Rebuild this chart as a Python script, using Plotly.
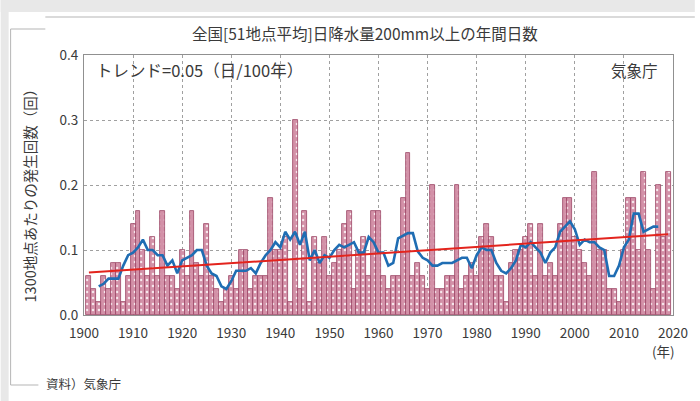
import numpy as np
import pandas as pd
import plotly.graph_objects as go

# Annual number of days with daily precipitation >= 200 mm (51-station mean, per station)
years = list(range(1901, 2020))
days_200mm = [
    0.06, 0.04, 0.02, 0.06, 0.04, 0.08, 0.08, 0.02, 0.06, 0.14,   # 1901-1910
    0.16, 0.10, 0.06, 0.12, 0.06, 0.16, 0.06, 0.06, 0.04, 0.10,   # 1911-1920
    0.06, 0.16, 0.08, 0.06, 0.14, 0.06, 0.04, 0.02, 0.04, 0.06,   # 1921-1930
    0.04, 0.10, 0.10, 0.04, 0.06, 0.06, 0.06, 0.18, 0.10, 0.10,   # 1931-1940
    0.12, 0.02, 0.30, 0.04, 0.16, 0.02, 0.12, 0.08, 0.12, 0.06,   # 1941-1950
    0.08, 0.10, 0.14, 0.16, 0.04, 0.10, 0.12, 0.06, 0.16, 0.16,   # 1951-1960
    0.06, 0.04, 0.06, 0.06, 0.18, 0.25, 0.06, 0.08, 0.06, 0.04,   # 1961-1970
    0.20, 0.04, 0.04, 0.06, 0.06, 0.20, 0.04, 0.06, 0.08, 0.06,   # 1971-1980
    0.12, 0.14, 0.12, 0.06, 0.06, 0.02, 0.08, 0.10, 0.10, 0.12,   # 1981-1990
    0.14, 0.06, 0.14, 0.06, 0.08, 0.06, 0.14, 0.18, 0.18, 0.12,   # 1991-2000
    0.10, 0.08, 0.06, 0.22, 0.10, 0.10, 0.04, 0.04, 0.02, 0.10,   # 2001-2010
    0.18, 0.18, 0.10, 0.22, 0.10, 0.04, 0.20, 0.12, 0.22,         # 2011-2019
]
trend_per_century = 0.05  # days per 100 years

x_ticks = list(range(1900, 2021, 10))
y_ticks = [0.0, 0.1, 0.2, 0.3, 0.4]

s = pd.Series(days_200mm, index=years)
running5 = s.rolling(5, center=True).mean()
yr = np.array(years, dtype=float)
trend = s.mean() + trend_per_century / 100.0 * (yr - yr.mean())

W, H = 700, 401
L, R, T, B = 84, 22, 55, 86
PW, PH = W - L - R, H - T - B


def px(xp):
    return (xp - L) / PW


def py(yp):
    return (H - B - yp) / PH


FONT = "Noto Sans CJK JP"
TXT = "#3a3a3a"
GRID = "#a0a0a0"

fig = go.Figure()
fig.add_trace(go.Bar(
    x=years, y=days_200mm, width=1.0,
    marker=dict(
        color="#d391a8",
        line=dict(color="#9a4565", width=0.8),
        pattern=dict(shape=".", fillmode="replace", bgcolor="#d391a8",
                     fgcolor="#f6e6ec", size=6, solidity=0.15),
    ),
    showlegend=False,
))
fig.add_trace(go.Scatter(
    x=years, y=running5, mode="lines",
    line=dict(color="#1f6db3", width=2.6),
    showlegend=False,
))
fig.add_trace(go.Scatter(
    x=years, y=trend, mode="lines",
    line=dict(color="#e3241d", width=2),
    showlegend=False,
))

fig.update_layout(
    width=W, height=H,
    margin=dict(l=L, r=R, t=T, b=B),
    paper_bgcolor="white", plot_bgcolor="white",
    bargap=0,
    font=dict(family=FONT, color=TXT, size=13),
    xaxis=dict(
        range=[1900, 2020], tickvals=x_ticks, ticktext=[str(v) for v in x_ticks],
        showgrid=True, gridcolor=GRID, griddash="dot", gridwidth=1,
        showline=True, linecolor="#909090", linewidth=1, mirror=True,
        ticks="outside", ticklen=6, tickcolor="rgba(0,0,0,0)",
        tickfont=dict(size=13.5, color=TXT), zeroline=False,
    ),
    yaxis=dict(
        range=[0, 0.4], tickvals=y_ticks, ticktext=[f"{v:.1f}" for v in y_ticks],
        showgrid=True, gridcolor=GRID, griddash="dot", gridwidth=1,
        showline=True, linecolor="#909090", linewidth=1, mirror=True,
        ticks="outside", ticklen=2, tickcolor="rgba(0,0,0,0)",
        tickfont=dict(size=13.5, color=TXT), zeroline=False,
    ),
)

# page background strips and bracket lines around the figure
shapes = [
    dict(type="rect", xref="paper", yref="paper", x0=px(0), x1=px(W), y0=py(0), y1=py(12),
         fillcolor="#e8e8e8", line=dict(width=0), layer="below"),
    dict(type="rect", xref="paper", yref="paper", x0=px(0), x1=px(8), y0=py(0), y1=py(H),
         fillcolor="#e8e8e8", line=dict(width=0), layer="below"),
    dict(type="line", xref="paper", yref="paper", x0=px(45), x1=px(W), y0=py(17), y1=py(17),
         line=dict(color="#b5b5b5", width=1)),
    dict(type="line", xref="paper", yref="paper", x0=px(10), x1=px(45), y0=py(29), y1=py(29),
         line=dict(color="#b5b5b5", width=1)),
    dict(type="line", xref="paper", yref="paper", x0=px(10), x1=px(10), y0=py(29), y1=py(385),
         line=dict(color="#b5b5b5", width=1)),
    dict(type="line", xref="paper", yref="paper", x0=px(10), x1=px(38), y0=py(385), y1=py(385),
         line=dict(color="#b5b5b5", width=1)),
]
fig.update_layout(shapes=shapes)

ann = [
    dict(text="全国[51地点平均]日降水量200mm以上の年間日数", x=px(367), y=py(33),
         xanchor="center", yanchor="middle", font=dict(size=15.5)),
    dict(text="トレンド=0.05（日/100年）", x=px(94), y=py(70),
         xanchor="left", yanchor="middle", font=dict(size=16.5)),
    dict(text="気象庁", x=px(665), y=py(70),
         xanchor="right", yanchor="middle", font=dict(size=15.5)),
    dict(text="(年)", x=px(668), y=py(351),
         xanchor="center", yanchor="middle", font=dict(size=13.5)),
    dict(text="資料）気象庁", x=px(44), y=py(383),
         xanchor="left", yanchor="middle", font=dict(size=12.5)),
    dict(text="1300地点あたりの発生回数（回）", x=px(29), y=py(192), textangle=-90,
         xanchor="center", yanchor="middle", font=dict(size=14.5)),
]
for a in ann:
    a.update(xref="paper", yref="paper", showarrow=False)
fig.update_layout(annotations=ann)

fig.write_html("out.html")
